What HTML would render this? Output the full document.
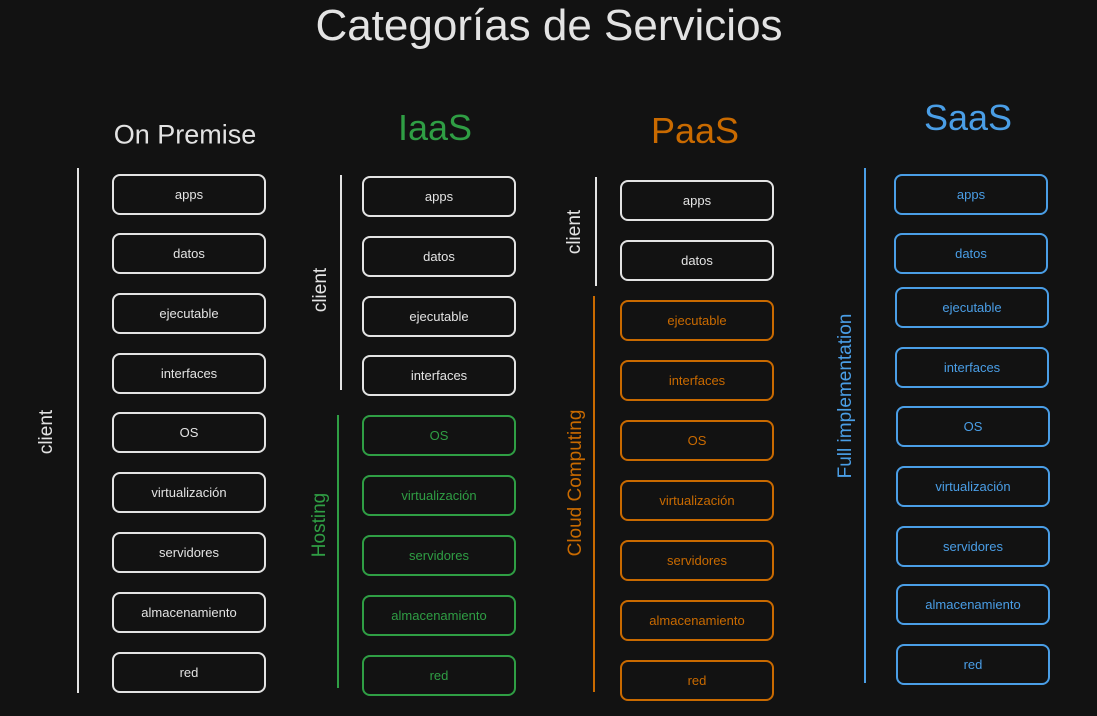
<!DOCTYPE html>
<html><head><meta charset="utf-8"><style>
body{margin:0;width:1097px;height:716px;background:#121212;overflow:hidden;position:relative;font-family:"Liberation Sans",sans-serif}
.t{position:absolute;white-space:nowrap;transform:translate(-50%,-50%)}
.b{position:absolute;width:150px;height:37px;border:2px solid;border-radius:8px;display:flex;align-items:center;justify-content:center;font-size:13px;box-sizing:content-box}
.l{position:absolute;width:2px}
.v{position:absolute;white-space:nowrap;transform:translate(-50%,-50%) rotate(-90deg);font-size:19px}
.w{color:#e3e3e3;border-color:#e3e3e3}.g{color:#2f9e44;border-color:#2f9e44}.o{color:#c96a00;border-color:#c96a00}.bl{color:#4a9ee6;border-color:#4a9ee6}
</style></head><body>
<div class="t" style="left:549px;top:26px;font-size:44px;color:#e3e3e3">Categorías de Servicios</div>
<div class="t" style="left:185px;top:135px;font-size:27px;color:#e3e3e3">On Premise</div>
<div class="t" style="left:435px;top:128px;font-size:36px;color:#2f9e44">IaaS</div>
<div class="t" style="left:695px;top:131px;font-size:36px;color:#c96a00">PaaS</div>
<div class="t" style="left:968px;top:118px;font-size:36px;color:#4a9ee6">SaaS</div>

<div class="l" style="left:77px;top:168px;height:525px;background:#e3e3e3"></div>
<div class="v" style="left:47px;top:432px;color:#e3e3e3">client</div>
<div class="l" style="left:340px;top:175px;height:215px;background:#e3e3e3"></div>
<div class="v" style="left:321px;top:290px;color:#e3e3e3">client</div>
<div class="l" style="left:337px;top:415px;height:273px;background:#2f9e44"></div>
<div class="v" style="left:320px;top:525px;color:#2f9e44">Hosting</div>
<div class="l" style="left:595px;top:177px;height:109px;background:#e3e3e3"></div>
<div class="v" style="left:575px;top:232px;color:#e3e3e3">client</div>
<div class="l" style="left:593px;top:296px;height:396px;background:#c96a00"></div>
<div class="v" style="left:576px;top:483px;color:#c96a00">Cloud Computing</div>
<div class="l" style="left:864px;top:168px;height:515px;background:#4a9ee6"></div>
<div class="v" style="left:846px;top:396px;color:#4a9ee6">Full implementation</div>

<div class="b w" style="left:112px;top:174px">apps</div>
<div class="b w" style="left:112px;top:233px">datos</div>
<div class="b w" style="left:112px;top:293px">ejecutable</div>
<div class="b w" style="left:112px;top:353px">interfaces</div>
<div class="b w" style="left:112px;top:412px">OS</div>
<div class="b w" style="left:112px;top:472px">virtualización</div>
<div class="b w" style="left:112px;top:532px">servidores</div>
<div class="b w" style="left:112px;top:592px">almacenamiento</div>
<div class="b w" style="left:112px;top:652px">red</div>

<div class="b w" style="left:362px;top:176px">apps</div>
<div class="b w" style="left:362px;top:236px">datos</div>
<div class="b w" style="left:362px;top:296px">ejecutable</div>
<div class="b w" style="left:362px;top:355px">interfaces</div>
<div class="b g" style="left:362px;top:415px">OS</div>
<div class="b g" style="left:362px;top:475px">virtualización</div>
<div class="b g" style="left:362px;top:535px">servidores</div>
<div class="b g" style="left:362px;top:595px">almacenamiento</div>
<div class="b g" style="left:362px;top:655px">red</div>

<div class="b w" style="left:620px;top:180px">apps</div>
<div class="b w" style="left:620px;top:240px">datos</div>
<div class="b o" style="left:620px;top:300px">ejecutable</div>
<div class="b o" style="left:620px;top:360px">interfaces</div>
<div class="b o" style="left:620px;top:420px">OS</div>
<div class="b o" style="left:620px;top:480px">virtualización</div>
<div class="b o" style="left:620px;top:540px">servidores</div>
<div class="b o" style="left:620px;top:600px">almacenamiento</div>
<div class="b o" style="left:620px;top:660px">red</div>

<div class="b bl" style="left:894px;top:174px">apps</div>
<div class="b bl" style="left:894px;top:233px">datos</div>
<div class="b bl" style="left:895px;top:287px">ejecutable</div>
<div class="b bl" style="left:895px;top:347px">interfaces</div>
<div class="b bl" style="left:896px;top:406px">OS</div>
<div class="b bl" style="left:896px;top:466px">virtualización</div>
<div class="b bl" style="left:896px;top:526px">servidores</div>
<div class="b bl" style="left:896px;top:584px">almacenamiento</div>
<div class="b bl" style="left:896px;top:644px">red</div>
</body></html>
